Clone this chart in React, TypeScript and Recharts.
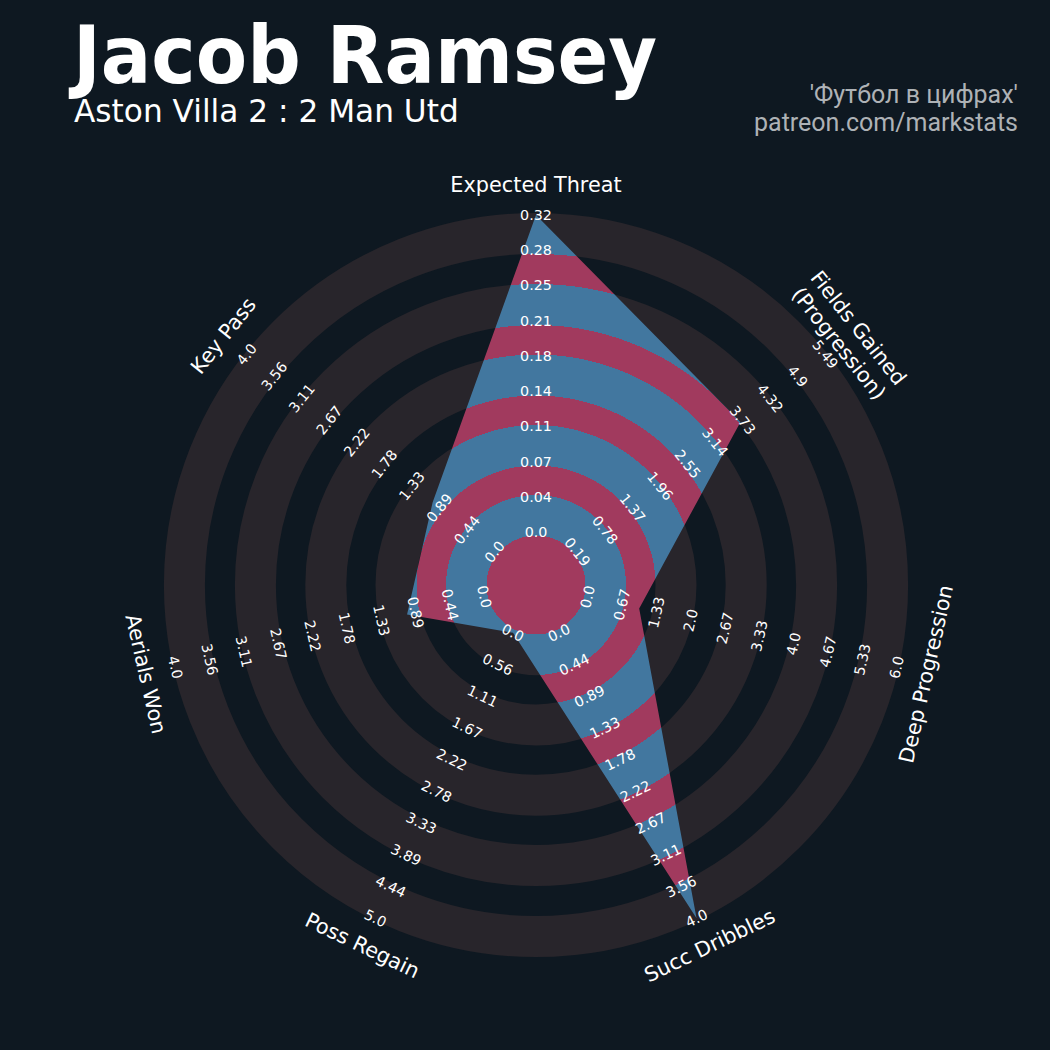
import React from "react";
import {
    RadarChart,
    PolarGrid,
    PolarAngleAxis,
    PolarRadiusAxis,
    Radar
} from "recharts";

// radar parameters, clockwise from the top
const params = [
    "Expected Threat",
    "Fields Gained\n(Progression)",
    "Deep Progression",
    "Succ Dribbles",
    "Poss Regain",
    "Aerials Won",
    "Key Pass"
];

const values = [0.32, 3.68, 1.0, 4.0, 0.0, 1.0, 1.0];

const lowRange = [0.0, 0.193, 0.0, 0.0, 0.0, 0.0, 0.0];
const highRange = [0.32, 5.494, 6.0, 4.0, 5.0, 4.0, 4.0];

const rangeLabels = [
    ["0.0", "0.04", "0.07", "0.11", "0.14", "0.18", "0.21", "0.25", "0.28", "0.32"],
    ["0.19", "0.78", "1.37", "1.96", "2.55", "3.14", "3.73", "4.32", "4.9", "5.49"],
    ["0.0", "0.67", "1.33", "2.0", "2.67", "3.33", "4.0", "4.67", "5.33", "6.0"],
    ["0.0", "0.44", "0.89", "1.33", "1.78", "2.22", "2.67", "3.11", "3.56", "4.0"],
    ["0.0", "0.56", "1.11", "1.67", "2.22", "2.78", "3.33", "3.89", "4.44", "5.0"],
    ["0.0", "0.44", "0.89", "1.33", "1.78", "2.22", "2.67", "3.11", "3.56", "4.0"],
    ["0.0", "0.44", "0.89", "1.33", "1.78", "2.22", "2.67", "3.11", "3.56", "4.0"]
];

const LEVELS = 9;

const BG = "#0e1821";
const RING = "#28252b";
const BLUE = "#42779f";
const PINK = "#a13a5e";

const CX = 536;
const CY = 585;
const INNER_R = 53;
const OUTER_R = 370;
const PARAM_R = 400;

// background rings (centre radius, width 41)
const ringCenters = [69.8, 140, 210.2, 280.6, 351.6];
const RING_W = 41;

// band edges for the polygon fill: pink inside the gaps, blue inside the rings
const bandEdges = [49.5, 90, 119.5, 160, 189.5, 230.5, 260, 301, 331, 372];

const radarData = params.map((p, i) => ({
    param: p,
    level: Math.max(0, Math.min(1, (values[i] - lowRange[i]) / (highRange[i] - lowRange[i]))) * LEVELS
}));

function uprightRotation(angle: number) {
    let rot = angle - 90;
    while (rot > 90) rot -= 180;
    while (rot < -90) rot += 180;
    return rot;
}

const axisAngle = (i: number) => 90 - (i * 360) / params.length;

const ParamTick = (props: any) => {
    const cx = props.cx ?? CX;
    const cy = props.cy ?? CY;
    const a = (Math.atan2(cy - props.y, props.x - cx) * 180) / Math.PI;
    const rad = (a * Math.PI) / 180;
    const x = cx + PARAM_R * Math.cos(rad);
    const y = cy - PARAM_R * Math.sin(rad);
    const rot = uprightRotation(a);
    const lines = String(props.payload.value).split("\n");
    return (
        <text
            x={x}
            y={y}
            transform={`rotate(${-rot}, ${x}, ${y})`}
            textAnchor="middle"
            fill="#ffffff"
            fontSize={20.8}
            fontFamily="DejaVu Sans"
        >
            {lines.map((l, i) => (
                <tspan
                    key={i}
                    x={x}
                    dy={i === 0 ? `${0.35 - (lines.length - 1) * 0.6}em` : "1.2em"}
                >
                    {l}
                </tspan>
            ))}
        </text>
    );
};

const makeRangeTick = (idx: number) => (props: any) => {
    const rot = uprightRotation(axisAngle(idx));
    const label = rangeLabels[idx][Math.round(props.payload.value)];
    return (
        <text
            x={props.x}
            y={props.y}
            transform={`rotate(${-rot}, ${props.x}, ${props.y})`}
            textAnchor="middle"
            dominantBaseline="central"
            fill="#ffffff"
            fontSize={14.3}
            fontFamily="DejaVu Sans"
        >
            {label}
        </text>
    );
};

export default function App() {

    const stops: any[] = [];
    let prev = 0;
    bandEdges.forEach((edge, i) => {
        const color = i % 2 === 0 ? PINK : BLUE;
        stops.push(<stop key={`a${i}`} offset={prev / 372} stopColor={color} />);
        stops.push(<stop key={`b${i}`} offset={edge / 372} stopColor={color} />);
        prev = edge;
    });

    return (
        <div
            style={{
                position: "absolute",
                left: 0,
                top: 0,
                width: 1050,
                height: 1050,
                background: BG,
                overflow: "hidden"
            }}
        >
            <svg
                width={1050}
                height={200}
                style={{ position: "absolute", left: 0, top: 0 }}
            >
                <defs>
                    <radialGradient
                        id="bands"
                        gradientUnits="userSpaceOnUse"
                        cx={CX}
                        cy={CY}
                        r={372}
                    >
                        {stops}
                    </radialGradient>
                </defs>
                <text
                    x={73}
                    y={83}
                    fill="#ffffff"
                    fontSize={80}
                    fontWeight="bold"
                    fontFamily="DejaVu Sans"
                    textLength={584}
                    lengthAdjust="spacingAndGlyphs"
                >
                    Jacob Ramsey
                </text>
                <text
                    x={74}
                    y={122}
                    fill="#ffffff"
                    fontSize={31.2}
                    fontFamily="DejaVu Sans"
                >
                    Aston Villa 2 : 2 Man Utd
                </text>
                <text
                    x={1018}
                    y={103}
                    fill="#aeb2b6"
                    fontSize={25}
                    textAnchor="end"
                    fontFamily="Roboto"
                >
                    'Футбол в цифрах'
                </text>
                <text
                    x={1018}
                    y={131}
                    fill="#aeb2b6"
                    fontSize={25}
                    textAnchor="end"
                    fontFamily="Roboto"
                >
                    patreon.com/markstats
                </text>
            </svg>

            <div style={{ position: "absolute", left: 0, top: 0 }}>
                <RadarChart
                    width={1050}
                    height={1050}
                    data={radarData}
                    cx={CX}
                    cy={CY}
                    innerRadius={INNER_R}
                    outerRadius={OUTER_R}
                    startAngle={90}
                    endAngle={-270}
                    margin={{ top: 0, right: 0, bottom: 0, left: 0 }}
                >
                    <PolarGrid
                        gridType="circle"
                        radialLines={false}
                        polarRadius={ringCenters}
                        stroke={RING}
                        strokeWidth={RING_W}
                    />

                    <Radar
                        dataKey="level"
                        radiusAxisId={0}
                        fill="url(#bands)"
                        fillOpacity={1}
                        stroke="none"
                        isAnimationActive={false}
                    />

                    {params.slice(1).map((p, j) => (
                        <Radar
                            key={`ghost-${p}`}
                            dataKey="level"
                            radiusAxisId={j + 1}
                            fill="none"
                            fillOpacity={0}
                            stroke="none"
                            legendType="none"
                            isAnimationActive={false}
                        />
                    ))}

                    <PolarAngleAxis
                        dataKey="param"
                        tick={ParamTick}
                        tickLine={false}
                        axisLine={false}
                    />

                    {params.map((p, i) => (
                        <PolarRadiusAxis
                            key={p}
                            radiusAxisId={i}
                            angle={axisAngle(i)}
                            type="number"
                            domain={[0, LEVELS]}
                            tickCount={LEVELS + 1}
                            axisLine={false}
                            tickLine={false}
                            tick={makeRangeTick(i)}
                        />
                    ))}
                </RadarChart>
            </div>
        </div>
    );
}
